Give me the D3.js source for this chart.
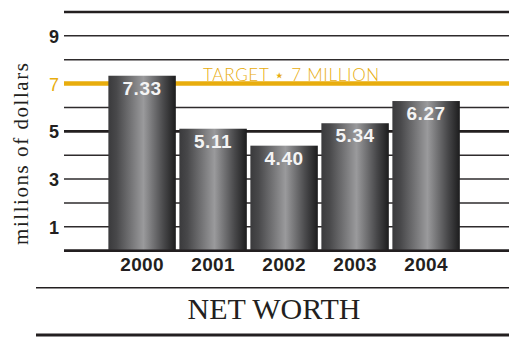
<!DOCTYPE html>
<html>
<head>
<meta charset="utf-8">
<script src="https://cdn.jsdelivr.net/npm/d3@7"></script>
<style>
  html, body { margin: 0; padding: 0; background: #fff; }
  svg { display: block; }
</style>
</head>
<body>
<svg id="chart" width="509" height="338"></svg>
<script>
// Net worth by year, millions of dollars
const years = ["2000", "2001", "2002", "2003", "2004"];
const netWorth = [7.33, 5.11, 4.40, 5.34, 6.27];
const gridValues = [0, 1, 2, 3, 4, 5, 6, 7, 8, 9, 10];
const tickLabels = [1, 3, 5, 7, 9];
const targetValue = 7;
const targetText = "TARGET \u22C6 7 MILLION";
const yTitle = "millions of dollars";
const chartTitle = "NET WORTH";

const W = 509, H = 338;
const svg = d3.select("#chart");
const ink = "#231f20";
const gold = "#e8ad0d";

const x = d3.scaleBand().domain(years).range([106.6, 461.6])
  .paddingInner(0.05).paddingOuter(0.025);
const y = d3.scaleLinear().domain([0, 10]).range([250.7, 12]);

// cylinder-like shading for the bars
const grad = svg.append("defs").append("linearGradient")
  .attr("id", "barShade").attr("x1", "0%").attr("x2", "100%");
[["0%", "#3a3a3c"], ["12%", "#48484a"], ["52%", "#9a9a9c"], ["82%", "#48484a"], ["100%", "#1c1c1d"]]
  .forEach(([o, c]) => grad.append("stop").attr("offset", o).attr("stop-color", c));

// horizontal rules
svg.append("g").selectAll("line").data(gridValues.filter(v => v !== targetValue)).join("line")
  .attr("x1", 64).attr("x2", W)
  .attr("y1", d => y(d)).attr("y2", d => y(d))
  .attr("stroke", d => (d % 5 === 0) ? ink : "#2e2b2c")
  .attr("stroke-width", d => (d % 5 === 0) ? 2.6 : 1.5);

// target line
svg.append("line")
  .attr("x1", 64).attr("x2", W)
  .attr("y1", y(targetValue)).attr("y2", y(targetValue))
  .attr("stroke", gold).attr("stroke-width", 4.5);

svg.append("text")
  .attr("x", 203).attr("y", y(targetValue) - 2.3)
  .attr("font-family", "Lato, 'Open Sans', sans-serif")
  .attr("font-weight", 300)
  .attr("font-size", 17)
  .attr("letter-spacing", 0.7)
  .attr("fill", gold)
  .text(targetText);

// y tick labels
const yAxis = d3.axisLeft(y).tickValues(tickLabels).tickSize(0).tickPadding(0)
  .tickFormat(d3.format("d"));
const ya = svg.append("g").attr("transform", "translate(59,0)").call(yAxis);
ya.select(".domain").remove();
ya.selectAll("text")
  .attr("font-family", "'Liberation Sans', Arial, sans-serif")
  .attr("font-size", 18)
  .attr("font-weight", d => d === targetValue ? "normal" : "bold")
  .attr("fill", d => d === targetValue ? gold : ink)
  .attr("dy", "0.36em");

// bars
svg.append("g").selectAll("rect").data(netWorth).join("rect")
  .attr("x", (d, i) => x(years[i]))
  .attr("width", x.bandwidth())
  .attr("y", d => y(d))
  .attr("height", d => y(0) - y(d))
  .attr("fill", "url(#barShade)");

// baseline redrawn over the bars
svg.append("line")
  .attr("x1", 64).attr("x2", W)
  .attr("y1", y(0)).attr("y2", y(0))
  .attr("stroke", ink).attr("stroke-width", 2.6);

// value labels
svg.append("g").selectAll("text").data(netWorth).join("text")
  .attr("x", (d, i) => x(years[i]) + x.bandwidth() / 2)
  .attr("y", d => y(d) + 19)
  .attr("text-anchor", "middle")
  .attr("font-family", "'Liberation Sans', Arial, sans-serif")
  .attr("font-weight", "bold")
  .attr("font-size", 19)
  .attr("letter-spacing", 0.6)
  .attr("fill", "#f4f4f4")
  .text(d => d.toFixed(2));

// year labels
const xAxis = d3.axisBottom(x).tickSize(0).tickPadding(0);
const xa = svg.append("g").attr("transform", `translate(0,${y(0)})`).call(xAxis);
xa.select(".domain").remove();
xa.selectAll("text")
  .attr("font-family", "'Liberation Sans', Arial, sans-serif")
  .attr("font-weight", "bold")
  .attr("font-size", 19)
  .attr("letter-spacing", 0.4)
  .attr("fill", ink)
  .attr("dy", 0)
  .attr("y", 20);

// axis title
svg.append("text")
  .attr("transform", "translate(28,154) rotate(-90)")
  .attr("text-anchor", "middle")
  .attr("font-family", "'Liberation Serif', 'Times New Roman', serif")
  .attr("font-size", 21)
  .attr("textLength", 182)
  .attr("lengthAdjust", "spacing")
  .attr("fill", ink)
  .text(yTitle);

// title block
svg.append("line").attr("x1", 36).attr("x2", W).attr("y1", 287.7).attr("y2", 287.7)
  .attr("stroke", ink).attr("stroke-width", 1.6);
svg.append("text")
  .attr("x", 274).attr("y", 319)
  .attr("text-anchor", "middle")
  .attr("font-family", "'Liberation Serif', 'Times New Roman', serif")
  .attr("font-size", 30)
  .attr("fill", ink)
  .text(chartTitle);
svg.append("line").attr("x1", 36).attr("x2", W).attr("y1", 335).attr("y2", 335)
  .attr("stroke", ink).attr("stroke-width", 3.2);
</script>
</body>
</html>
